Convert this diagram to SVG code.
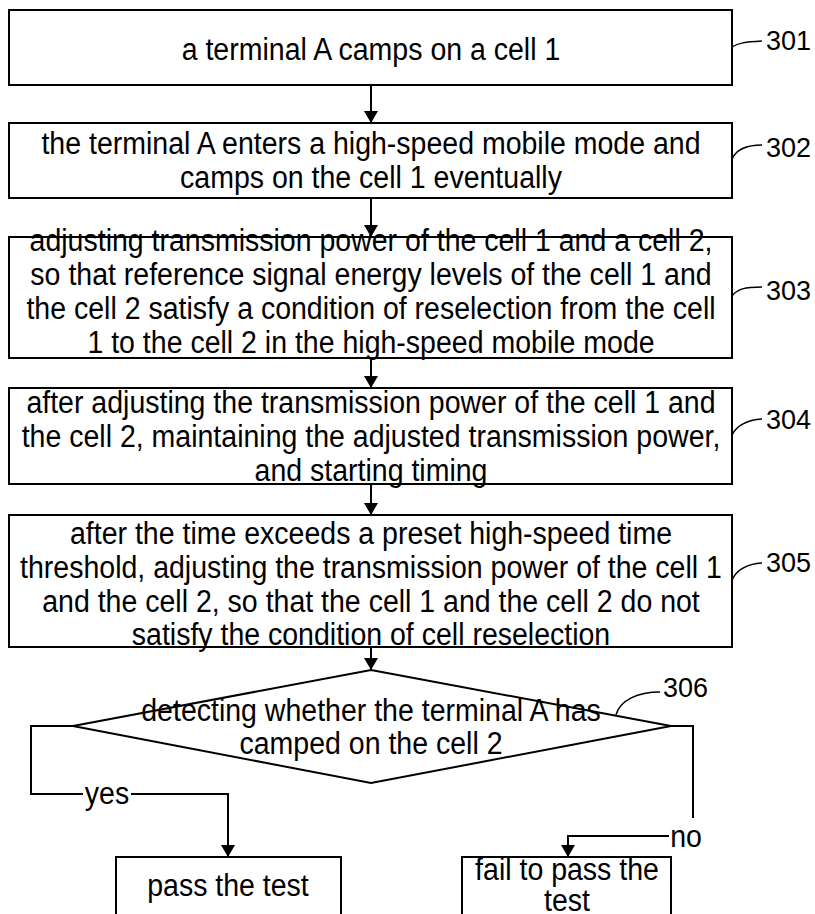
<svg xmlns="http://www.w3.org/2000/svg" width="815" height="914" viewBox="0 0 815 914">
<style>
.box{fill:#fff;stroke:#000;stroke-width:2}
.t{font-family:"Liberation Sans",Arial,sans-serif;font-size:31px;fill:#000;text-anchor:middle}
.lbl{font-family:"Liberation Sans",Arial,sans-serif;font-size:27px;fill:#000}
.ln{fill:none;stroke:#000;stroke-width:2}
.ld{fill:none;stroke:#000;stroke-width:1.5}
</style>
<defs>
<marker id="ah" markerWidth="12" markerHeight="14" refX="12" refY="7" orient="auto" markerUnits="userSpaceOnUse">
<path d="M0,0 L12,7 L0,14 Z" fill="#000"/>
</marker>
</defs>
<rect width="815" height="914" fill="#fff"/>
<g id="connectors">
<line class="ln" x1="371" y1="85" x2="371" y2="123" marker-end="url(#ah)"/>
<line class="ln" x1="371" y1="198" x2="371" y2="237" marker-end="url(#ah)"/>
<line class="ln" x1="371" y1="358" x2="371" y2="388" marker-end="url(#ah)"/>
<line class="ln" x1="371" y1="484" x2="371" y2="515" marker-end="url(#ah)"/>
<line class="ln" x1="371" y1="647" x2="371" y2="670" marker-end="url(#ah)"/>
<polyline class="ln" points="73,726 31,726 31,794 83,794"/>
<polyline class="ln" points="131,794 228,794 228,857" marker-end="url(#ah)"/>
<polyline class="ln" points="671,726 693,726 693,818"/>
<polyline class="ln" points="669,836 568,836 568,857" marker-end="url(#ah)"/>
<g transform="translate(107,0) scale(0.92,1)"><text class="t" x="0" y="804">yes</text></g>
<g transform="translate(686,0) scale(0.92,1)"><text class="t" x="0" y="847">no</text></g>
</g>
<g id="n301">
<rect class="box" x="9" y="10" width="723" height="75"/>
<g transform="translate(371,0) scale(0.92,1)"><text class="t" x="0" y="60">a terminal A camps on a cell 1</text></g>
<path class="ld" d="M732,47 C738,43 745,42 762,41"/>
<text class="lbl" x="766" y="50">301</text>
</g>
<g id="n302">
<rect class="box" x="9" y="123" width="723" height="75"/>
<g transform="translate(371,0) scale(0.92,1)">
<text class="t" x="0" y="154">the terminal A enters a high-speed mobile mode and</text>
<text class="t" x="0" y="188">camps on the cell 1 eventually</text>
</g>
<path class="ld" d="M732,159 C736,150 745,145 762,145"/>
<text class="lbl" x="766" y="157">302</text>
</g>
<g id="n303">
<rect class="box" x="9" y="237" width="723" height="121"/>
<g transform="translate(371,0) scale(0.92,1)">
<text class="t" x="0" y="251">adjusting transmission power of the cell 1 and a cell 2,</text>
<text class="t" x="0" y="285">so that reference signal energy levels of the cell 1 and</text>
<text class="t" x="0" y="319">the cell 2 satisfy a condition of reselection from the cell</text>
<text class="t" x="0" y="353">1 to the cell 2 in the high-speed mobile mode</text>
</g>
<path class="ld" d="M732,296 C737,289 745,287 762,287"/>
<text class="lbl" x="766" y="300">303</text>
</g>
<g id="n304">
<rect class="box" x="9" y="388" width="723" height="96"/>
<g transform="translate(371,0) scale(0.92,1)">
<text class="t" x="0" y="413">after adjusting the transmission power of the cell 1 and</text>
<text class="t" x="0" y="447">the cell 2, maintaining the adjusted transmission power,</text>
<text class="t" x="0" y="481">and starting timing</text>
</g>
<path class="ld" d="M732,435 C737,425 747,420 762,419"/>
<text class="lbl" x="766" y="429">304</text>
</g>
<g id="n305">
<rect class="box" x="9" y="515" width="723" height="132"/>
<g transform="translate(371,0) scale(0.92,1)">
<text class="t" x="0" y="544">after the time exceeds a preset high-speed time</text>
<text class="t" x="0" y="578">threshold, adjusting the transmission power of the cell 1</text>
<text class="t" x="0" y="612">and the cell 2, so that the cell 1 and the cell 2 do not</text>
<text class="t" x="0" y="645">satisfy the condition of cell reselection</text>
</g>
<path class="ld" d="M732,580 C737,569 747,564 762,563"/>
<text class="lbl" x="766" y="572">305</text>
</g>
<g id="n306">
<polygon class="box" points="371,670 671,726 371,783 73,726" style="fill:none"/>
<g transform="translate(371,0) scale(0.92,1)">
<text class="t" x="0" y="721">detecting whether the terminal A has</text>
<text class="t" x="0" y="754">camped on the cell 2</text>
</g>
<path class="ld" d="M616,715 C620,700 638,692 660,692"/>
<text class="lbl" x="663" y="697">306</text>
</g>
<g id="pass">
<rect class="box" x="116" y="857" width="225" height="70"/>
<g transform="translate(228,0) scale(0.92,1)"><text class="t" x="0" y="896">pass the test</text></g>
</g>
<g id="fail">
<rect class="box" x="462" y="857" width="209" height="70"/>
<g transform="translate(567,0) scale(0.92,1)">
<text class="t" x="0" y="880">fail to pass the</text>
<text class="t" x="0" y="911">test</text>
</g>
</g>
</svg>
